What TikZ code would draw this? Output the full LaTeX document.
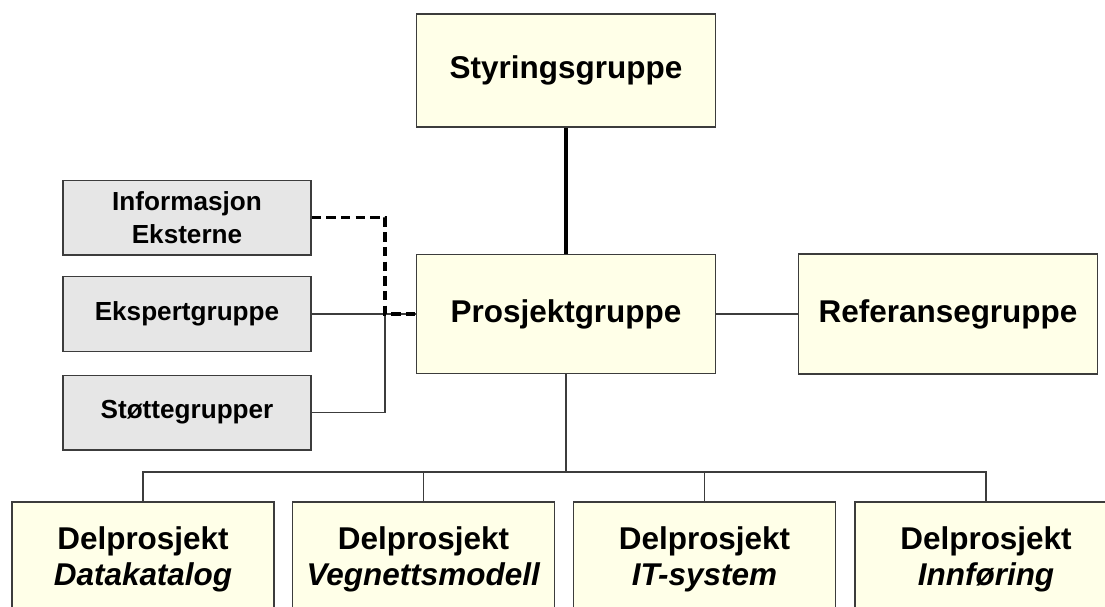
\documentclass[tikz,border=0pt]{standalone}
\usepackage{fontspec}
\setmainfont{Liberation Sans}
\definecolor{boxyellow}{RGB}{255,255,232}
\definecolor{boxgray}{RGB}{230,230,230}
\definecolor{edge}{RGB}{60,60,60}
\begin{document}
\begin{tikzpicture}[x=0.75pt,y=-0.75pt,
  box/.style={draw=edge,line width=1pt,inner sep=0pt,align=center,font=\bfseries},
  yellowbox/.style={box,fill=boxyellow,minimum width=224pt,
    font=\fontsize{23.6}{27}\selectfont\bfseries},
  graybox/.style={box,fill=boxgray,minimum width=186pt,minimum height=56pt,
    font=\fontsize{19.6}{24.75}\selectfont\bfseries},
  subbox/.style={yellowbox,minimum width=196.5pt,minimum height=85.5pt},
  link/.style={draw=edge,line width=1pt},
  boldlink/.style={draw=black,line width=2.3pt},
  dashlink/.style={draw=black,line width=2.4pt,dash pattern=on 7pt off 4pt}]
\useasboundingbox (0,0) rectangle (1105,606);
\clip (0,0) rectangle (1105,606);

% top level
\node[yellowbox,minimum height=84.75pt] (styr) at (566,70.5) {Styringsgruppe};
\node[yellowbox,minimum height=89.25pt] (proj) at (566,314) {Prosjektgruppe};
\node[yellowbox,minimum height=90pt] (ref) at (948,314) {Referansegruppe};

% support groups on the left
\node[graybox] (info) at (187,217.5) {Informasjon\\Eksterne};
\node[graybox] (eksp) at (187,314) {Ekspertgruppe};
\node[graybox] (stotte) at (187,412.5) {Støttegrupper};

% sub-projects (lower edge runs off the page)
\node[subbox] (d1) at (143,559) {Delprosjekt\\\textit{Datakatalog}};
\node[subbox] (d2) at (423.5,559) {Delprosjekt\\\textit{Vegnettsmodell}};
\node[subbox] (d3) at (704.5,559) {Delprosjekt\\\textit{IT-system}};
\node[subbox] (d4) at (986,559) {Delprosjekt\\\textit{Innføring}};

% junction points
\coordinate (jx) at (385,314);
\coordinate (bus) at (566,472);

% connectors
\draw[boldlink] (styr.south) -- (proj.north);
\draw[link] (ref.west) -- (proj.east);
\draw[link] (eksp.east) -- (proj.west);
\draw[link] (stotte.east) -| (jx);
\draw[dashlink] (info.east) -| (jx) -- (proj.west);

\draw[link] (proj.south) -- (bus);
\draw[link] (d1.north) |- (bus) -| (d4.north);
\draw[link] (d2.north) -- (d2.north |- bus);
\draw[link] (d3.north) -- (d3.north |- bus);
\end{tikzpicture}
\end{document}
